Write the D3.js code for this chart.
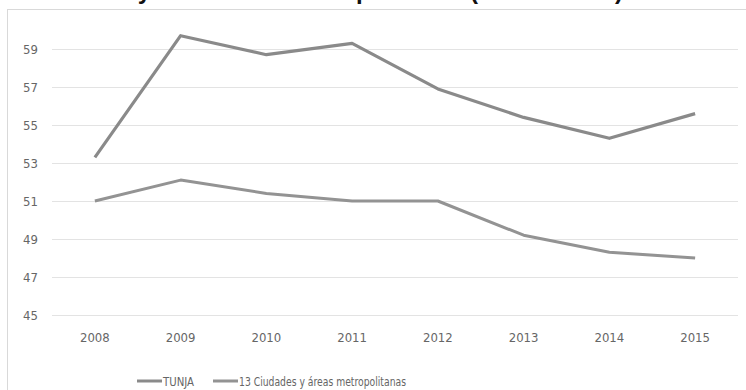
<!DOCTYPE html>
<html>
<head>
<meta charset="utf-8">
<script src="https://cdn.jsdelivr.net/npm/d3@7"></script>
<style>
  body { margin: 0; background: #fff; }
  svg { display: block; font-family: "Liberation Sans Narrow", "DejaVu Sans Condensed", "Roboto", sans-serif; }
</style>
</head>
<body>
<svg id="chart" width="746" height="390"></svg>
<script>
const years = ['2008', '2009', '2010', '2011', '2012', '2013', '2014', '2015']
const tunja = [53.3, 59.7, 58.7, 59.3, 56.9, 55.4, 54.3, 55.6]
const ciudades = [51.0, 52.1, 51.4, 51.0, 51.0, 49.2, 48.3, 48.0]
const yTicks = [45, 47, 49, 51, 53, 55, 57, 59]
const seriesNames = ['TUNJA', '13 Ciudades y áreas metropolitanas']

const svg = d3.select('#chart')

// title, mostly cut off at the top edge of the picture
const title = svg.append('text')
  .attr('y', -1.5)
  .attr('font-family', 'Liberation Sans, Arial, sans-serif')
  .attr('font-weight', 'bold')
  .attr('font-size', 24)
  .attr('fill', '#111')
title.append('tspan').attr('x', 151).attr('text-anchor', 'end').text('Tasa de informalidad TUNJA y')
title.append('tspan').attr('x', 356).attr('text-anchor', 'end').text(' 13 áreas metro')
title.append('tspan').attr('x', 356).attr('text-anchor', 'start').text('politanas ')
title.append('tspan').attr('x', 470).attr('text-anchor', 'start')
  .attr('textLength', 153).attr('lengthAdjust', 'spacing')
  .text('(2008 - 2015)')

// chart frame
svg.append('rect')
  .attr('x', 7.5).attr('y', 9.5)
  .attr('width', 760).attr('height', 400)
  .attr('fill', '#fff')
  .attr('stroke', '#d9d9d9')

const x = d3.scalePoint()
  .domain(years)
  .range([52, 738])
  .padding(0.5)

const y = d3.scaleLinear()
  .domain([45, 61])
  .range([315, 11])

// gridlines
svg.append('g')
  .selectAll('line')
  .data(yTicks)
  .join('line')
  .attr('x1', 52).attr('x2', 738)
  .attr('y1', d => Math.round(y(d)) + 0.5)
  .attr('y2', d => Math.round(y(d)) + 0.5)
  .attr('stroke', '#e3e3e3')

// y labels
svg.append('g')
  .selectAll('text')
  .data(yTicks)
  .join('text')
  .attr('x', 38)
  .attr('y', d => y(d) + 4.5)
  .attr('text-anchor', 'end')
  .attr('font-size', 13)
  .attr('fill', '#666')
  .text(d => d)

// x labels
svg.append('g')
  .selectAll('text')
  .data(years)
  .join('text')
  .attr('x', d => x(d))
  .attr('y', 342)
  .attr('text-anchor', 'middle')
  .attr('font-size', 13)
  .attr('fill', '#666')
  .text(d => d)

const line = d3.line()
  .x((d, i) => x(years[i]))
  .y(d => y(d))

const colors = ['#8a8a8a', '#939393']

svg.append('path')
  .datum(tunja)
  .attr('d', line)
  .attr('fill', 'none')
  .attr('stroke', colors[0])
  .attr('stroke-width', 3.2)
  .attr('stroke-linejoin', 'round')

svg.append('path')
  .datum(ciudades)
  .attr('d', line)
  .attr('fill', 'none')
  .attr('stroke', colors[1])
  .attr('stroke-width', 3)
  .attr('stroke-linejoin', 'round')

// legend
const legendX = [137, 213]
const legendLen = [31, 167]
const legend = svg.append('g')
  .selectAll('g')
  .data(seriesNames)
  .join('g')
  .attr('transform', (d, i) => `translate(${legendX[i]},381)`)

legend.append('line')
  .attr('x1', 0).attr('x2', 25)
  .attr('stroke', (d, i) => colors[i])
  .attr('stroke-width', 3)

legend.append('text')
  .attr('x', 26)
  .attr('y', 4.5)
  .attr('font-size', 13)
  .attr('textLength', (d, i) => legendLen[i])
  .attr('lengthAdjust', 'spacingAndGlyphs')
  .attr('fill', '#666')
  .text(d => d)
</script>
</body>
</html>
